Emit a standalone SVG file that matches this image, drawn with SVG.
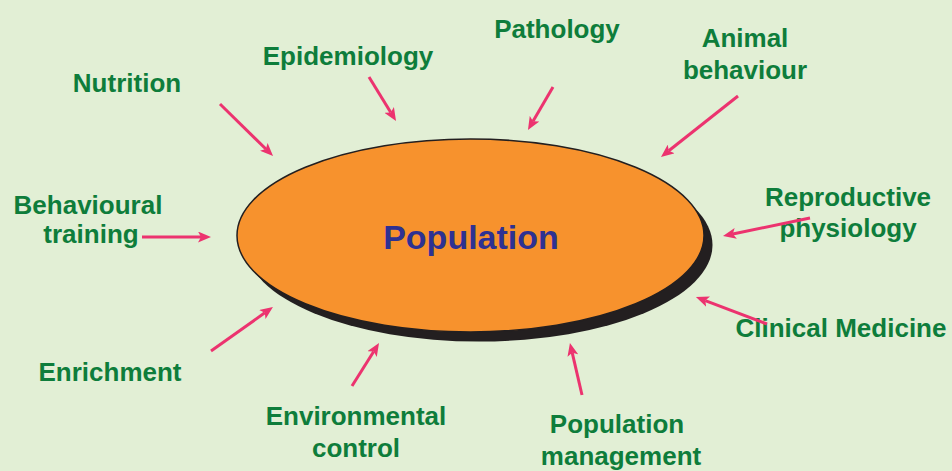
<svg xmlns="http://www.w3.org/2000/svg" width="952" height="471" viewBox="0 0 952 471">
<style>
.lbl{font-family:"Liberation Sans",Arial,sans-serif;font-weight:bold;font-size:26px;fill:#0e7d3b;text-anchor:middle}
.ctr{font-family:"Liberation Sans",Arial,sans-serif;font-weight:bold;font-size:34px;fill:#2e3192;text-anchor:middle}
.arr{stroke:#ec336f;stroke-width:3;fill:none;marker-end:url(#ah)}
</style>
<defs>
<marker id="ah" markerUnits="userSpaceOnUse" markerWidth="14" markerHeight="11" refX="3" refY="5.5" orient="auto">
<path d="M0,0 L13,5.5 L0,11 L3,5.5 z" fill="#ec336f"/>
</marker>
</defs>
<rect width="952" height="471" fill="#e2efd5"/>
<g id="population">
<ellipse cx="479" cy="245" rx="233.5" ry="96.5" fill="#231f20"/>
<ellipse cx="470.5" cy="235.5" rx="233.5" ry="96.5" fill="#f7922d" stroke="#231f20" stroke-width="1.5"/>
<text class="ctr" x="471" y="249">Population</text>
</g>
<g id="nutrition"><text class="lbl" x="127" y="92">Nutrition</text></g>
<g id="epidemiology"><text class="lbl" x="348" y="65">Epidemiology</text></g>
<g id="pathology"><text class="lbl" x="557" y="38">Pathology</text></g>
<g id="animal-behaviour"><text class="lbl" x="745" y="47">Animal</text><text class="lbl" x="745" y="79">behaviour</text></g>
<g id="reproductive-physiology"><text class="lbl" x="848" y="206">Reproductive</text><text class="lbl" x="848" y="237">physiology</text></g>
<g id="clinical-medicine"><text class="lbl" x="841" y="337">Clinical Medicine</text></g>
<g id="population-management"><text class="lbl" x="617" y="433">Population</text><text class="lbl" x="621" y="465">management</text></g>
<g id="environmental-control"><text class="lbl" x="356" y="425">Environmental</text><text class="lbl" x="356" y="457">control</text></g>
<g id="enrichment"><text class="lbl" x="110" y="381">Enrichment</text></g>
<g id="behavioural-training"><text class="lbl" x="88" y="214">Behavioural</text><text class="lbl" x="91" y="243">training</text></g>
<g id="connectors">
<line class="arr" x1="220" y1="104" x2="265.9" y2="149"/>
<line class="arr" x1="369" y1="77" x2="390.8" y2="112.5"/>
<line class="arr" x1="553" y1="87" x2="533" y2="121.3"/>
<line class="arr" x1="738" y1="96" x2="668.8" y2="150.8"/>
<line class="arr" x1="810" y1="218" x2="732.8" y2="234"/>
<line class="arr" x1="767" y1="324" x2="705.3" y2="300.6"/>
<line class="arr" x1="582" y1="395" x2="572.2" y2="352.7"/>
<line class="arr" x1="352" y1="386" x2="373.7" y2="351.5"/>
<line class="arr" x1="211" y1="351" x2="264.8" y2="312.8"/>
<line class="arr" x1="142" y1="237" x2="201" y2="237"/>
</g>
</svg>
